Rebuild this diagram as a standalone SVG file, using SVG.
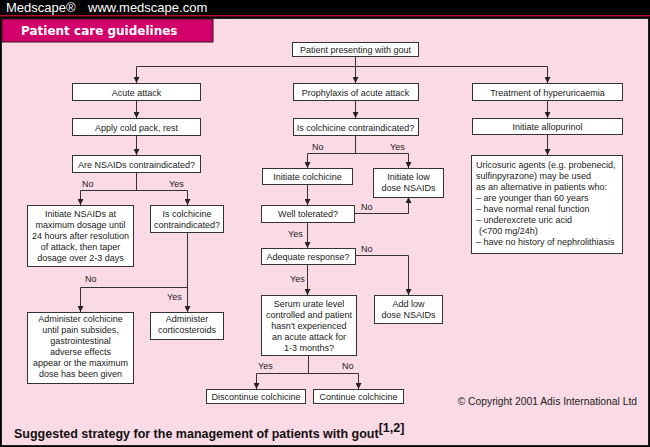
<svg xmlns="http://www.w3.org/2000/svg" width="650" height="447" viewBox="0 0 650 447">
<style>
text{font-family:"Liberation Sans",Arial,sans-serif;fill:#222;}
.t{font-size:9px;text-anchor:middle;}
.l{font-size:9px;}
.b{fill:#fff;stroke:#333;stroke-width:1;}
.c{fill:none;stroke:#333;stroke-width:1;}
</style>
<defs>
<marker id="a" viewBox="0 0 6 6" markerWidth="6" markerHeight="6" refX="6" refY="3" orient="auto" markerUnits="userSpaceOnUse">
<path d="M0,0 L6,3 L0,6 z" fill="#222"/>
</marker>
</defs>
<rect x="0" y="0" width="650" height="447" fill="#000"/>
<rect x="0" y="15" width="650" height="1.5" fill="#b0102a"/>
<rect x="1.5" y="18.5" width="647" height="427" fill="#fadae4" stroke="#222" stroke-width="1"/>
<text x="6" y="12" style="font-size:13px;fill:#fff">Medscape®</text>
<text x="88" y="12" style="font-size:13px;fill:#fff">www.medscape.com</text>
<g id="tab">
<rect x="2" y="19" width="211" height="23" fill="#d2006a" stroke="#301018" stroke-width="1"/>
<text x="21" y="35" style="font-family:'DejaVu Sans',sans-serif;font-weight:900;font-size:12px;fill:#fff">Patient care guidelines</text>
</g>
<g id="connectors">
<path class="c" d="M355.5,56 V83" marker-end="url(#a)"/>
<path class="c" d="M136.5,66.5 H547.5"/>
<path class="c" d="M136.5,66.5 V83" marker-end="url(#a)"/>
<path class="c" d="M547.5,66.5 V83" marker-end="url(#a)"/>
<path class="c" d="M136.5,100 V118" marker-end="url(#a)"/>
<path class="c" d="M136.5,135 V155" marker-end="url(#a)"/>
<path class="c" d="M136.5,172 V190.5"/>
<path class="c" d="M80.5,190.5 H187.5"/>
<path class="c" d="M80.5,190.5 V205" marker-end="url(#a)"/>
<path class="c" d="M187.5,190.5 V205" marker-end="url(#a)"/>
<path class="c" d="M187.5,232 V312" marker-end="url(#a)"/>
<path class="c" d="M187.5,287.5 H80.5 V312" marker-end="url(#a)"/>
<path class="c" d="M355.5,100 V118" marker-end="url(#a)"/>
<path class="c" d="M355.5,135 V153.5"/>
<path class="c" d="M307.5,153.5 H408.5"/>
<path class="c" d="M307.5,153.5 V168" marker-end="url(#a)"/>
<path class="c" d="M408.5,153.5 V168" marker-end="url(#a)"/>
<path class="c" d="M307.5,184 V205" marker-end="url(#a)"/>
<path class="c" d="M354,213.5 H408.5 V197" marker-end="url(#a)"/>
<path class="c" d="M307.5,222 V248" marker-end="url(#a)"/>
<path class="c" d="M355,255.5 H408.5 V295" marker-end="url(#a)"/>
<path class="c" d="M307.5,264 V295" marker-end="url(#a)"/>
<path class="c" d="M308.5,355 V373.5"/>
<path class="c" d="M256.5,373.5 H358.5"/>
<path class="c" d="M256.5,373.5 V389" marker-end="url(#a)"/>
<path class="c" d="M358.5,373.5 V389" marker-end="url(#a)"/>
<path class="c" d="M547.5,100 V118" marker-end="url(#a)"/>
<path class="c" d="M547.5,134 V155" marker-end="url(#a)"/>
<text class="l" x="82" y="187">No</text>
<text class="l" x="169" y="187">Yes</text>
<text class="l" x="85" y="282">No</text>
<text class="l" x="167" y="300">Yes</text>
<text class="l" x="312" y="150">No</text>
<text class="l" x="390" y="150">Yes</text>
<text class="l" x="361" y="210">No</text>
<text class="l" x="288" y="237">Yes</text>
<text class="l" x="361" y="252">No</text>
<text class="l" x="290" y="282">Yes</text>
<text class="l" x="258" y="369">Yes</text>
<text class="l" x="342" y="369">No</text>
</g>
<g id="n-patient"><rect class="b" x="292.5" y="42.5" width="126" height="14"/><text class="t" x="355.5" y="52.5">Patient presenting with gout</text></g>
<g id="n-acute"><rect class="b" x="72.5" y="83.5" width="128" height="17"/><text class="t" x="136.5" y="95.5">Acute attack</text></g>
<g id="n-cold"><rect class="b" x="72.5" y="118.5" width="128" height="17"/><text class="t" x="136.5" y="130.5">Apply cold pack, rest</text></g>
<g id="n-nsaidq"><rect class="b" x="72.5" y="155.5" width="128" height="17"/><text class="t" x="136.5" y="167.5">Are NSAIDs contraindicated?</text></g>
<g id="n-initnsaid"><rect class="b" x="27.5" y="205.5" width="106" height="61"/><text class="t" x="80.5" y="217">Initiate NSAIDs at</text><text class="t" x="80.5" y="228">maximum dosage until</text><text class="t" x="80.5" y="239">24 hours after resolution</text><text class="t" x="80.5" y="250">of attack, then taper</text><text class="t" x="80.5" y="261">dosage over 2-3 days</text></g>
<g id="n-colq1"><rect class="b" x="150.5" y="205.5" width="73" height="27"/><text class="t" x="187" y="217">Is colchicine</text><text class="t" x="187" y="228">contraindicated?</text></g>
<g id="n-admcol"><rect class="b" x="27.5" y="312.5" width="106" height="71"/><text class="t" x="80.5" y="322">Administer colchicine</text><text class="t" x="80.5" y="333">until pain subsides,</text><text class="t" x="80.5" y="344">gastrointestinal</text><text class="t" x="80.5" y="355">adverse effects</text><text class="t" x="80.5" y="366">appear or the maximum</text><text class="t" x="80.5" y="377">dose has been given</text></g>
<g id="n-cortico"><rect class="b" x="150.5" y="312.5" width="73" height="27"/><text class="t" x="187" y="322">Administer</text><text class="t" x="187" y="333">corticosteroids</text></g>
<g id="n-proph"><rect class="b" x="293.5" y="83.5" width="125" height="17"/><text class="t" x="355.5" y="95.5">Prophylaxis of acute attack</text></g>
<g id="n-colq2"><rect class="b" x="293.5" y="118.5" width="125" height="17"/><text class="t" x="355.5" y="130.5">Is colchicine contraindicated?</text></g>
<g id="n-initcol"><rect class="b" x="262.5" y="168.5" width="90" height="16"/><text class="t" x="307.5" y="180">Initiate colchicine</text></g>
<g id="n-lowdose"><rect class="b" x="373.5" y="168.5" width="70" height="29"/><text class="t" x="408.5" y="180">Initiate low</text><text class="t" x="408.5" y="191">dose NSAIDs</text></g>
<g id="n-tol"><rect class="b" x="261.5" y="205.5" width="93" height="17"/><text class="t" x="308" y="217">Well tolerated?</text></g>
<g id="n-adeq"><rect class="b" x="261.5" y="248.5" width="94" height="16"/><text class="t" x="308" y="260">Adequate response?</text></g>
<g id="n-serum"><rect class="b" x="261.5" y="295.5" width="95" height="60"/><text class="t" x="309" y="307">Serum urate level</text><text class="t" x="309" y="318">controlled and patient</text><text class="t" x="309" y="329">hasn't experienced</text><text class="t" x="309" y="340">an acute attack for</text><text class="t" x="309" y="351">1-3 months?</text></g>
<g id="n-addlow"><rect class="b" x="374.5" y="295.5" width="68" height="28"/><text class="t" x="408.5" y="307">Add low</text><text class="t" x="408.5" y="318">dose NSAIDs</text></g>
<g id="n-disc"><rect class="b" x="206.5" y="389.5" width="99" height="14"/><text class="t" x="256" y="400">Discontinue colchicine</text></g>
<g id="n-cont"><rect class="b" x="313.5" y="389.5" width="90" height="14"/><text class="t" x="358.5" y="400">Continue colchicine</text></g>
<g id="n-treat"><rect class="b" x="472.5" y="83.5" width="150" height="17"/><text class="t" x="547.5" y="95.5">Treatment of hyperuricaemia</text></g>
<g id="n-allo"><rect class="b" x="472.5" y="118.5" width="150" height="16"/><text class="t" x="547.5" y="130">Initiate allopurinol</text></g>
<g id="n-uric"><rect class="b" x="471.5" y="155.5" width="151" height="98"/>
<text class="l" x="476" y="168">Uricosuric agents (e.g. probenecid,</text>
<text class="l" x="476" y="179">sulfinpyrazone) may be used</text>
<text class="l" x="476" y="190">as an alternative in patients who:</text>
<text class="l" x="476" y="201">– are younger than 60 years</text>
<text class="l" x="476" y="212">– have normal renal function</text>
<text class="l" x="476" y="223">– underexcrete uric acid</text>
<text class="l" x="479" y="234">(&lt;700 mg/24h)</text>
<text class="l" x="476" y="245">– have no history of nephrolithiasis</text>
</g>
<text x="637" y="405" style="font-size:10.3px;text-anchor:end">© Copyright 2001 Adis International Ltd</text>
<text x="14" y="438" style="font-size:12.5px;font-weight:bold;fill:#111">Suggested strategy for the management of patients with gout<tspan dy="-6" style="font-size:12.5px">[1,2]</tspan></text>
</svg>
